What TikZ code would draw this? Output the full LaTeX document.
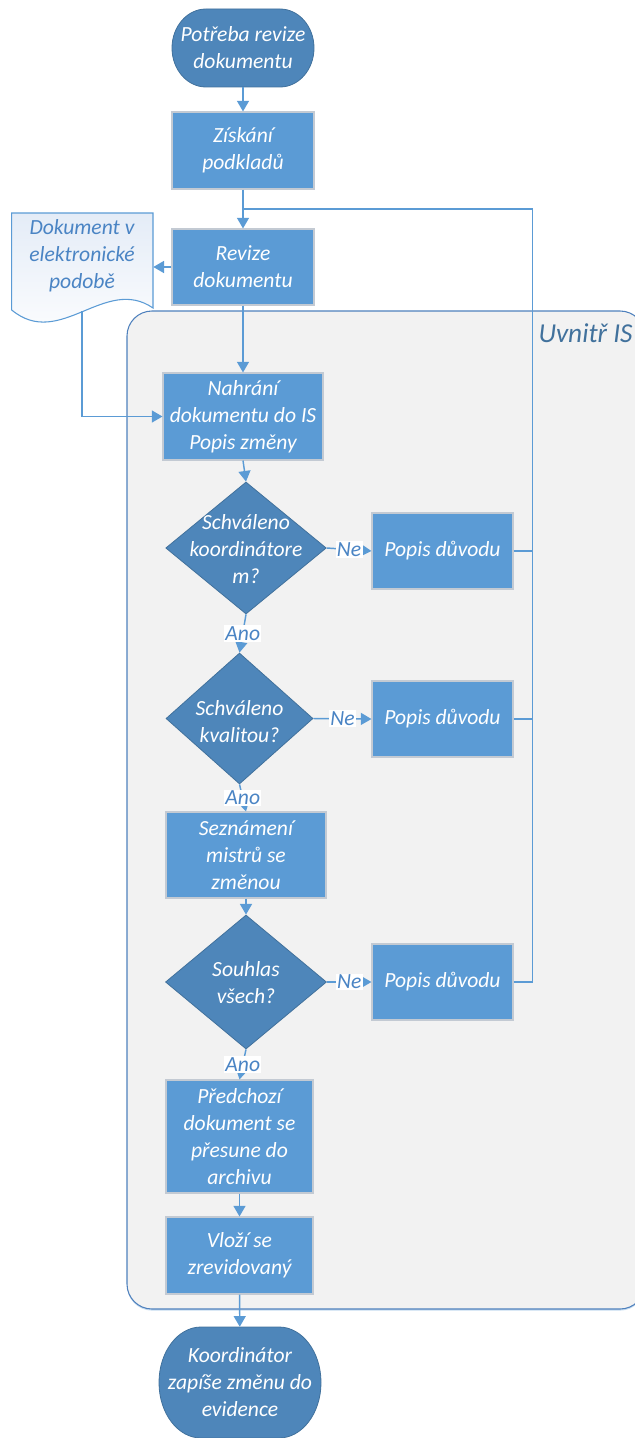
\documentclass[tikz,border=0pt]{standalone}
\usepackage{fontspec}
\setmainfont{Carlito}
\usetikzlibrary{arrows.meta,shapes.geometric,shadows}

\definecolor{boxblue}{HTML}{5B9BD5}
\definecolor{darkblue}{HTML}{4E86BA}
\definecolor{edgeblue}{HTML}{41719C}
\definecolor{linkblue}{HTML}{5B9BD5}
\definecolor{boxedge}{HTML}{C3CAD3}
\definecolor{labelblue}{HTML}{4A84C4}
\definecolor{groupfill}{HTML}{F2F2F2}
\definecolor{groupedge}{HTML}{4F81BD}
\definecolor{doctint}{HTML}{E4ECF7}

% terminator outline with elliptical corners: cx cy w h rx ry
\newcommand\termshape[6]{%
  \path[termfill] ({#1-#3/2+#5},{#2+#4/2}) -- ({#1+#3/2-#5},{#2+#4/2})
    arc[start angle=90,end angle=0,x radius=#5,y radius=#6]
    -- ({#1+#3/2},{#2-#4/2+#6})
    arc[start angle=0,end angle=-90,x radius=#5,y radius=#6]
    -- ({#1-#3/2+#5},{#2-#4/2})
    arc[start angle=270,end angle=180,x radius=#5,y radius=#6]
    -- ({#1-#3/2},{#2+#4/2-#6})
    arc[start angle=180,end angle=90,x radius=#5,y radius=#6] -- cycle;}

\begin{document}
\begin{tikzpicture}[x=0.75pt,y=0.75pt,
  every node/.style={font=\itshape\fontsize{16.2}{20.25}\selectfont},
  proc/.style={rectangle, fill=boxblue, draw=boxedge, line width=0.8pt,
    text=white, align=center, inner sep=0pt,
    drop shadow={shadow xshift=0.5pt, shadow yshift=-0.8pt, opacity=0.25, fill=boxblue}},
  decision/.style={diamond, fill=darkblue, draw=edgeblue, line width=0.6pt, inner sep=0pt},
  dtext/.style={text=white, align=center, inner sep=0pt},
  termfill/.style={fill=darkblue, draw=edgeblue, line width=0.6pt},
  termtext/.style={text=white, align=center, inner sep=0pt},
  link/.style={draw=linkblue, line width=1.1pt},
  arrow/.style={link, -{Triangle[length=8pt,width=9pt]}},
  answer/.style={fill=white, text=labelblue, inner sep=1pt},
  group/.style={fill=groupfill, draw=groupedge, line width=0.8pt, rounded corners=18.75pt,
    drop shadow={shadow xshift=0pt, shadow yshift=-1.2pt, opacity=0.35, fill=boxblue}},
  docshape/.style={draw=boxblue, line width=0.8pt, top color=doctint, bottom color=white},
]
\useasboundingbox (0,0) rectangle (635,-1438);

% process area
\path[group] (127,-311) rectangle (645,-1309);
\node[text=edgeblue, font=\itshape\fontsize{20.5}{24}\selectfont] (inside) at (585.5,-333) {Uvnitř IS};

% document symbol
\path[docshape] (11.7,-213) -- (153,-213) -- (153,-308)
  .. controls (105,-275) and (60,-350) .. (11.7,-310) -- cycle;
\node[minimum width=106pt, minimum height=72.75pt, inner sep=0pt] (doc) at (82.4,-261.5) {};
\node[text=labelblue, align=center, inner sep=0pt] (doclabel) at (82,-256) {Dokument v\\elektronické\\podobě};
\coordinate (docout) at (82,-311);

% terminators
\termshape{243}{-48}{142}{78}{34}{39}
\node[termtext, minimum width=106.5pt, minimum height=58.5pt] (start) at (243,-48) {Potřeba revize\\dokumentu};
\termshape{240}{-1382.5}{162}{111}{42}{55.5}
\node[termtext, minimum width=121.5pt, minimum height=83.25pt] (finish) at (240,-1382.5) {Koordinátor\\zapíše změnu do\\evidence};

% process steps
\node[proc, minimum width=106.5pt, minimum height=57.75pt] (zisk) at (243,-150.5) {Získání\\podkladů};
\node[proc, minimum width=106.5pt, minimum height=57pt] (revize) at (243,-267) {Revize\\dokumentu};
\node[proc, minimum width=120pt, minimum height=65.25pt] (nahrani) at (243,-416.5) {Nahrání\\dokumentu do IS\\Popis změny};
\node[proc, minimum width=105.75pt, minimum height=57pt] (p1) at (442.5,-551) {Popis důvodu};
\node[proc, minimum width=105.75pt, minimum height=57pt] (p2) at (442.5,-719) {Popis důvodu};
\node[proc, minimum width=120pt, minimum height=64.5pt] (sezn) at (246,-855) {Seznámení\\mistrů se\\změnou};
\node[proc, minimum width=105.75pt, minimum height=57pt] (p3) at (442.5,-982) {Popis důvodu};
\node[proc, minimum width=110.25pt, minimum height=84.75pt] (pred) at (239.5,-1136.5) {Předchozí\\dokument se\\přesune do\\archivu};
\node[proc, minimum width=110.25pt, minimum height=57.75pt] (vlozi) at (239.5,-1255.5) {Vloží se\\zrevidovaný};

% decisions
\node[decision, minimum width=120.4pt, minimum height=99pt] (d1) at (246,-548) {};
\node[dtext] (d1text) at (246,-549) {Schváleno\\koordinátore\\m?};
\node[decision, minimum width=110.25pt, minimum height=98.25pt] (d2) at (239.5,-718.5) {};
\node[dtext] (d2text) at (239.5,-721.5) {Schváleno\\kvalitou?};
\node[decision, minimum width=120.75pt, minimum height=100.5pt] (d3) at (246,-982) {};
\node[dtext] (d3text) at (246,-983) {Souhlas\\všech?};

% main flow
\draw[arrow] (start) -- (zisk);
\draw[arrow] (zisk) -- (revize);
\draw[arrow] (revize.west) -- (revize.west -| doc.east);
\draw[arrow] (revize) -- (nahrani);
\draw[arrow] (docout) |- (nahrani.west);
\draw[arrow] (nahrani.south) -- (d1.north);
\draw[arrow] (d1.south) -- node[answer] (ano1) {Ano} (d2.north);
\draw[arrow] (d2.south) -- node[answer] (ano2) {Ano} (sezn.north);
\draw[arrow] (sezn) -- (d3);
\draw[arrow] (d3.south) -- node[answer] (ano3) {Ano} (pred.north);
\draw[arrow] (pred) -- (vlozi);
\draw[arrow] (vlozi) -- (finish);

% rejections
\draw[arrow] (d1.east) -- node[answer] (ne1) {Ne} (p1.west);
\draw[arrow] (d2.east) -- node[answer] (ne2) {Ne} (p2.west);
\draw[arrow] (d3.east) -- node[answer] (ne3) {Ne} (p3.west);

% feedback loop back to the revision step
\coordinate (fbtop) at (532.5,-209);
\coordinate (fbbot) at (532.5,-982);
\coordinate (fbjoin) at (243,-209);
\draw[link] (p3.east) -- (fbbot) -- (fbtop) -- (fbjoin);
\draw[link] (p1.east) -- (p1.east -| fbtop);
\draw[link] (p2.east) -- (p2.east -| fbtop);
\end{tikzpicture}
\end{document}
